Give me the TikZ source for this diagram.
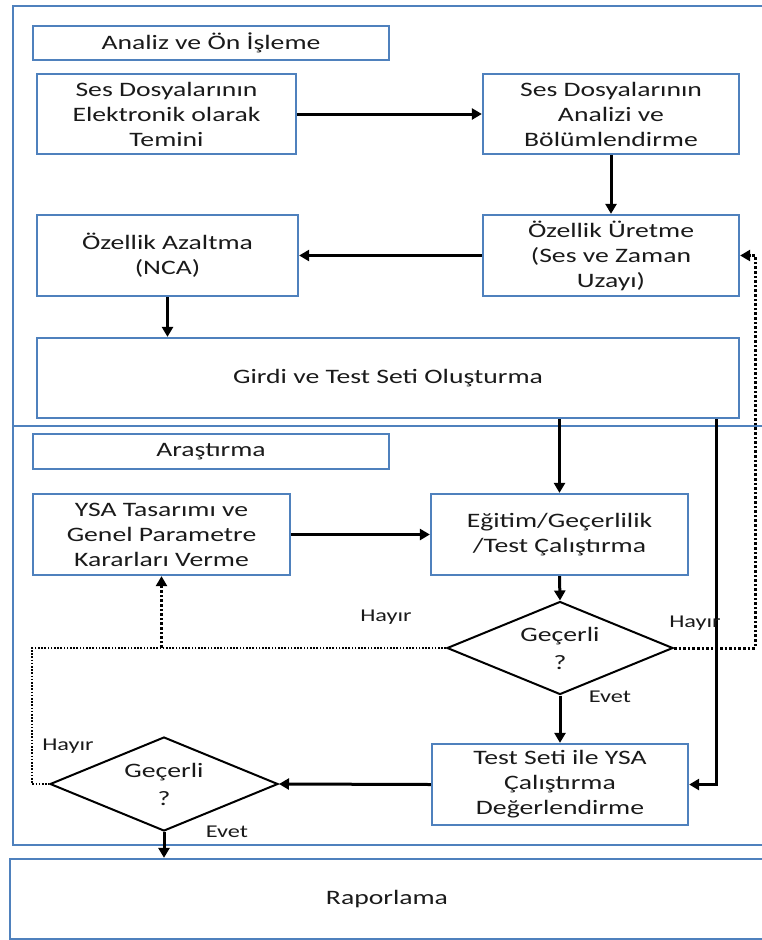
\documentclass[tikz,border=0pt]{standalone}
\usepackage{fontspec}
\setmainfont{Carlito}[FakeStretch=1.35]
\usetikzlibrary{shapes.geometric,arrows.meta}
\definecolor{cerceve}{RGB}{79,129,189}
\definecolor{yazi}{RGB}{26,26,26}

\begin{document}
\begin{tikzpicture}[x=1pt,y=-1pt,
  kutu/.style={draw=cerceve,line width=2.3pt,minimum width=256pt,minimum height=81pt,
    inner sep=0pt,align=center,text=yazi,font=\fontsize{20.5}{25}\selectfont},
  baslik/.style={kutu,minimum width=356pt,minimum height=34pt},
  karar/.style={draw=black,line width=2pt,shape=diamond,aspect=2.43,inner sep=0pt,
    minimum width=226pt,minimum height=93pt,align=center,text=yazi,
    font=\fontsize{20.5}{28}\selectfont},
  ok/.style={line width=3pt,-{Triangle[length=10pt,width=11pt]}},
  noktali/.style={line width=3pt,dash pattern=on 2.6pt off 2pt},
  inceNokta/.style={line width=1.8pt,dash pattern=on 1.6pt off 1.6pt},
  etiket/.style={text=yazi,font=\fontsize{18}{22}\selectfont}]

\useasboundingbox (0,0) rectangle (762,940);

\draw[cerceve,line width=2.3pt] (13,6) rectangle (775,845) (13,426) -- (775,426);

\node[baslik] (analizBaslik) at (211,43) {Analiz ve Ön İşleme};
\node[kutu,minimum width=259pt,minimum height=80pt] (temin) at (166.5,114) {Ses Dosyalarının\\Elektronik olarak\\Temini};
\node[kutu,minimum height=80pt] (analiz) at (611,114) {Ses Dosyalarının\\Analizi ve\\Bölümlendirme};
\node[kutu] (uretme) at (611,255.5) {Özellik Üretme\\(Ses ve Zaman\\Uzayı)};
\node[kutu,minimum width=261pt] (azaltma) at (167.5,255.5) {Özellik Azaltma\\(NCA)};
\node[kutu,minimum width=702pt,minimum height=80pt] (girdi) at (388,378) {Girdi ve Test Seti Oluşturma};

\node[baslik,minimum height=35pt] (arastirma) at (211,451.5) {Araştırma};
\node[kutu,minimum width=257pt] (tasarim) at (161.5,534.5) {YSA Tasarımı ve\\Genel Parametre\\Kararları Verme};
\node[kutu,minimum width=257pt] (egitim) at (559.5,534.5) {Eğitim/Geçerlilik\\/Test Çalıştırma};
\node[karar] (gecerli1) at (560,648) {Geçerli\\?};
\node[kutu] (test) at (560,784.5) {Test Seti ile YSA\\Çalıştırma\\Değerlendirme};
\node[karar,minimum width=228pt,minimum height=94pt] (gecerli2) at (164,784) {Geçerli\\?};
\node[kutu,minimum width=754pt,minimum height=80pt] (rapor) at (387,899) {Raporlama};

\draw[ok] (temin.east) -- (analiz.west);
\draw[ok] (analiz.south) -- (uretme.north);
\draw[ok] (uretme.west) -- (azaltma.east);
\draw[ok] (azaltma.south) -- (azaltma.south |- girdi.north);
\draw[ok] (egitim.north |- girdi.south) -- (egitim.north);
\draw[ok] (tasarim.east) -- (egitim.west);
\draw[ok] (egitim.south) -- (gecerli1.north);
\draw[ok] (gecerli1.south) -- (test.north);
\draw[ok] ([xshift=-24pt]girdi.south east) |- (test.east);
\draw[ok] (test.west) -- (gecerli2.east);
\draw[ok] (gecerli2.south) -- (gecerli2.south |- rapor.north);

\draw[noktali,-{Triangle[length=10pt,width=11pt]}] (gecerli1.east) -- ++(81,0) |- (uretme.east);
\draw[inceNokta] (gecerli1.west) -| ([xshift=-17pt]gecerli2.west) -- (gecerli2.west);
\draw[noktali,-{Triangle[length=10pt,width=11pt]}] (tasarim.south |- gecerli1.west) -- (tasarim.south);

\node[etiket] (hayir1) at (386,617) {Hayır};
\node[etiket] (hayir2) at (695,623) {Hayır};
\node[etiket] (hayir3) at (68,746) {Hayır};
\node[etiket] (evet1) at (610,697) {Evet};
\node[etiket] (evet2) at (227,832) {Evet};

\end{tikzpicture}
\end{document}
